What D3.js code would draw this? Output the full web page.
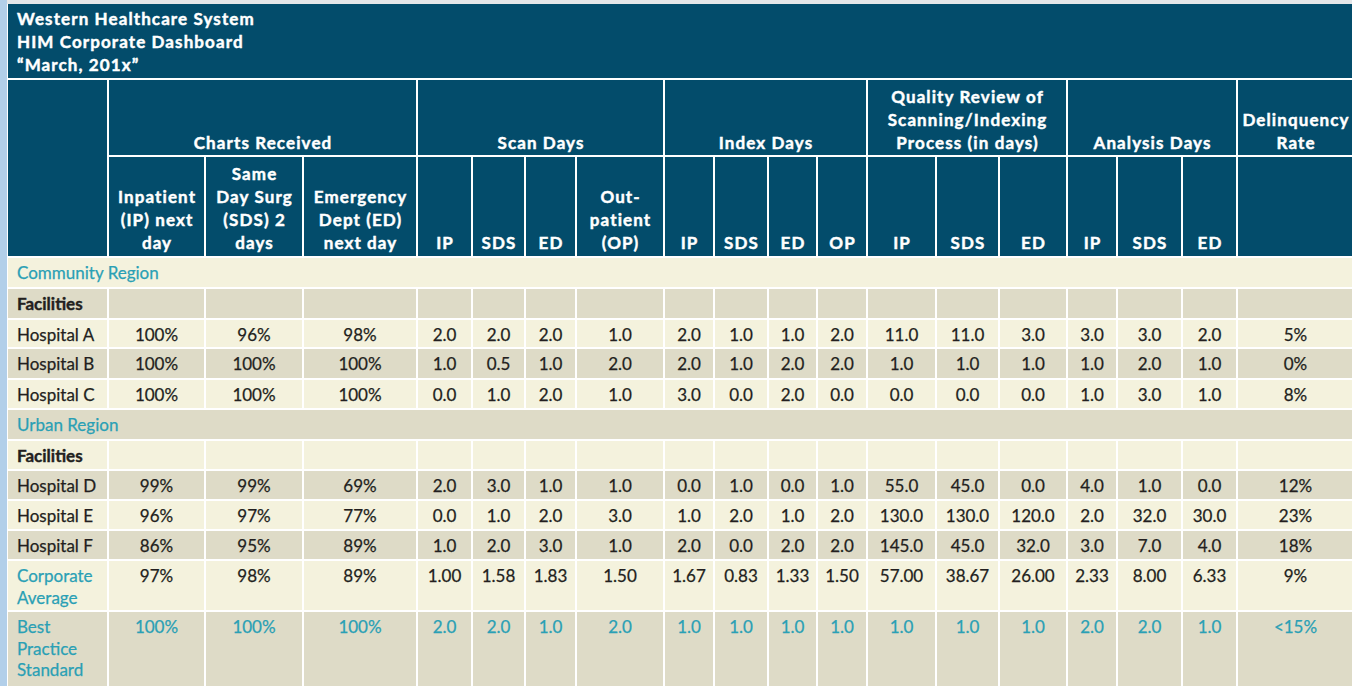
<!DOCTYPE html>
<html><head><meta charset="utf-8">
<script src="https://cdn.jsdelivr.net/npm/d3@7"></script>
<style>
body{margin:0;background:#fff;overflow:hidden}
svg{display:block;font-family:Lato,"Open Sans",sans-serif}
</style>
</head><body>
<svg id="chart" width="1352" height="686"></svg>
<script>
// ---------- DATA ----------
const titleLines = ["Western Healthcare System", "HIM Corporate Dashboard", "\u201CMarch, 201x\u201D"];
const regions = ["Community Region", "Urban Region"];
const facilities = ["Hospital A", "Hospital B", "Hospital C", "Hospital D", "Hospital E", "Hospital F"];
const groups = ["Charts Received", "Scan Days", "Index Days", "Quality Review of|Scanning/Indexing|Process (in days)", "Analysis Days", "Delinquency|Rate"];
const subLabels = [
  "Inpatient|(IP) next|day", "Same|Day Surg|(SDS) 2|days", "Emergency|Dept (ED)|next day",
  "IP", "SDS", "ED", "Out-|patient|(OP)",
  "IP", "SDS", "ED", "OP",
  "IP", "SDS", "ED",
  "IP", "SDS", "ED",
  ""
];
const chartsIP  = [100, 100, 100, 99, 96, 86];
const chartsSDS = [96, 100, 100, 99, 97, 95];
const chartsED  = [98, 100, 100, 69, 77, 89];
const scanIP    = [2, 1, 0, 2, 0, 1];
const scanSDS   = [2, 0.5, 1, 3, 1, 2];
const scanED    = [2, 1, 2, 1, 2, 3];
const scanOP    = [1, 2, 1, 1, 3, 1];
const indexIP   = [2, 2, 3, 0, 1, 2];
const indexSDS  = [1, 1, 0, 1, 2, 0];
const indexED   = [1, 2, 2, 0, 1, 2];
const indexOP   = [2, 2, 0, 1, 2, 2];
const qualityIP  = [11, 1, 0, 55, 130, 145];
const qualitySDS = [11, 1, 0, 45, 130, 45];
const qualityED  = [3, 1, 0, 0, 120, 32];
const analysisIP  = [3, 1, 1, 4, 2, 3];
const analysisSDS = [3, 2, 3, 1, 32, 7];
const analysisED  = [2, 1, 1, 0, 30, 4];
const delinquency = [5, 0, 8, 12, 23, 18];
const corporateAverage = [97, 98, 89, 1.00, 1.58, 1.83, 1.50, 1.67, 0.83, 1.33, 1.50, 57.00, 38.67, 26.00, 2.33, 8.00, 6.33, 9];
const bestPractice = ["100%", "100%", "100%", "2.0", "2.0", "1.0", "2.0", "1.0", "1.0", "1.0", "1.0", "1.0", "1.0", "1.0", "2.0", "2.0", "1.0", "<15%"];

const series = [chartsIP, chartsSDS, chartsED, scanIP, scanSDS, scanED, scanOP,
  indexIP, indexSDS, indexED, indexOP, qualityIP, qualitySDS, qualityED,
  analysisIP, analysisSDS, analysisED, delinquency];
const groupOf = [0,0,0,1,1,1,1,2,2,2,2,3,3,3,4,4,4,5];
const isPct = groupOf.map(g => g === 0 || g === 5);

// ---------- LAYOUT (positions / styles) ----------
const W = 1352, H = 686;
const colLines = [7, 108, 205, 303, 417, 472, 525, 576, 664, 714, 768, 817, 867, 936, 999, 1067, 1117, 1182, 1237, 1354];
const rowLines = [257, 288, 319, 348, 379, 409, 440, 470, 500, 530, 560, 611, 688];
const C = {
  head: "#034c6b", light: "#f4f2dd", dark: "#dedbc7", text: "#231f20", teal: "#2aa0b5",
  strip: "#b2cfe9", top: "#e4e6e8"
};
const FS = 17, HFS = 17, HLS = 1.1;

const svg = d3.select("#chart");

// column keys and scales
const colKeys = ["label"].concat(series.map((s, i) => "c" + i));
const x0 = d3.scaleOrdinal().domain(colKeys).range(colKeys.map((k, i) => colLines[i] + 1));
const xw = d3.scaleOrdinal().domain(colKeys).range(colKeys.map((k, i) => colLines[i + 1] - colLines[i] - 2));
const xc = k => x0(k) + xw(k) / 2;

// rows
const rows = [];
rows.push({type: "region", label: regions[0]});
rows.push({type: "fac", label: "Facilities"});
facilities.slice(0, 3).forEach((f, i) => rows.push({type: "data", label: f, idx: i}));
rows.push({type: "region", label: regions[1]});
rows.push({type: "fac", label: "Facilities"});
facilities.slice(3).forEach((f, i) => rows.push({type: "data", label: f, idx: i + 3}));
rows.push({type: "avg", label: "Corporate|Average"});
rows.push({type: "best", label: "Best|Practice|Standard"});
rows.forEach((r, i) => r.key = "row" + i);
const y0 = d3.scaleOrdinal().domain(rows.map(r => r.key)).range(rows.map((r, i) => rowLines[i] + 1));
const yh = d3.scaleOrdinal().domain(rows.map(r => r.key)).range(rows.map((r, i) => rowLines[i + 1] - rowLines[i] - 2));

// background strips
svg.append("rect").attr("x", 0).attr("y", 0).attr("width", W).attr("height", H).attr("fill", "#fff");
svg.append("rect").attr("x", 0).attr("y", 0).attr("width", W).attr("height", 4).attr("fill", C.top);
svg.append("rect").attr("x", 0).attr("y", 0).attr("width", 7).attr("height", H).attr("fill", C.strip);

function headText(sel) {
  return sel.attr("fill", "#fff").attr("font-weight", 700).attr("font-size", HFS)
    .attr("letter-spacing", HLS).attr("stroke", "#fff").attr("stroke-width", 0.45);
}

// title block
svg.append("rect").attr("x", 8).attr("y", 4).attr("width", W - 8).attr("height", 74).attr("fill", C.head);
headText(svg.append("g").selectAll("text").data(titleLines).join("text")
  .attr("x", 17).attr("y", (d, i) => 25 + i * 23)).text(d => d);

// header: label cell spanning both rows
svg.append("rect").attr("x", x0("label")).attr("y", 80).attr("width", xw("label")).attr("height", 176).attr("fill", C.head);

// group cells
const groupSpans = groups.map((g, gi) => {
  const cols = groupOf.map((v, i) => v === gi ? i : -1).filter(i => i >= 0);
  const a = "c" + cols[0], b = "c" + cols[cols.length - 1];
  return {label: g, x: x0(a), w: x0(b) + xw(b) - x0(a)};
});
const gSel = svg.append("g").selectAll("g").data(groupSpans).join("g");
gSel.append("rect").attr("x", d => d.x).attr("y", 80).attr("width", d => d.w).attr("height", 75).attr("fill", C.head);
gSel.each(function(d) {
  const lines = d.label.split("|");
  headText(d3.select(this).selectAll("text").data(lines).join("text")
    .attr("x", d.x + d.w / 2 + HLS / 2).attr("y", (l, i) => 149 - (lines.length - 1 - i) * 23)
    .attr("text-anchor", "middle")).text(l => l);
});

// header row 2
const sSel = svg.append("g").selectAll("g").data(subLabels.map((s, i) => ({label: s, key: "c" + i}))).join("g");
sSel.append("rect").attr("x", d => x0(d.key)).attr("y", 157).attr("width", d => xw(d.key)).attr("height", 99).attr("fill", C.head);
sSel.each(function(d) {
  const lines = d.label ? d.label.split("|") : [];
  headText(d3.select(this).selectAll("text").data(lines).join("text")
    .attr("x", xc(d.key) + HLS / 2).attr("y", (l, i) => 249 - (lines.length - 1 - i) * 23)
    .attr("text-anchor", "middle")).text(l => l);
});

// body
const f1 = d3.format(".1f"), f2 = d3.format(".2f");
function cellText(r, ci) {
  if (r.type === "data") { const v = series[ci][r.idx]; return isPct[ci] ? v + "%" : f1(v); }
  if (r.type === "avg") { const v = corporateAverage[ci]; return isPct[ci] ? v + "%" : f2(v); }
  if (r.type === "best") return bestPractice[ci];
  return "";
}
const rSel = svg.append("g").selectAll("g").data(rows).join("g");
rSel.each(function(r, ri) {
  const g = d3.select(this);
  const fill = ri % 2 === 0 ? C.light : C.dark;
  const top = y0(r.key), h = yh(r.key);
  if (r.type === "region") {
    g.append("rect").attr("x", 8).attr("y", top).attr("width", W - 8).attr("height", h).attr("fill", fill);
    g.append("text").attr("x", 17).attr("y", top + 20.5).attr("fill", C.teal).attr("font-size", FS)
      .attr("stroke", C.teal).attr("stroke-width", 0.25).text(r.label);
    return;
  }
  g.selectAll("rect").data(colKeys).join("rect")
    .attr("x", k => x0(k)).attr("y", top).attr("width", k => xw(k)).attr("height", h).attr("fill", fill);
  const labLines = r.label.split("|");
  const labColor = (r.type === "avg" || r.type === "best") ? C.teal : C.text;
  g.append("g").selectAll("text").data(labLines).join("text")
    .attr("x", 17).attr("y", (l, i) => top + 21 + i * 21.5)
    .attr("fill", labColor).attr("stroke", labColor).attr("stroke-width", r.type === "fac" ? 0.4 : 0.25)
    .attr("font-size", FS).attr("font-weight", r.type === "fac" ? 700 : 400)
    .text(l => l);
  const vals = series.map((s, ci) => ({key: "c" + ci, t: cellText(r, ci)}));
  const vColor = r.type === "best" ? C.teal : C.text;
  g.append("g").selectAll("text").data(vals).join("text")
    .attr("x", d => xc(d.key)).attr("y", top + 21)
    .attr("text-anchor", "middle").attr("font-size", FS)
    .attr("fill", vColor).attr("stroke", vColor).attr("stroke-width", 0.25)
    .text(d => d.t);
});
</script>
</body></html>
